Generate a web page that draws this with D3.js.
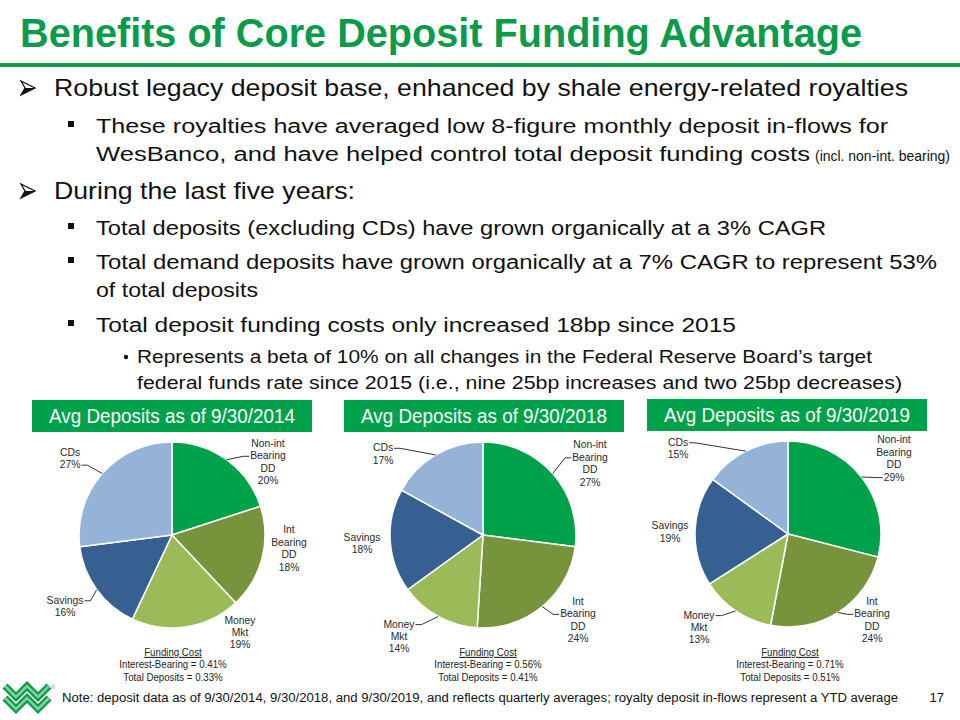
<!DOCTYPE html>
<html>
<head>
<meta charset="utf-8">
<script src="https://cdn.jsdelivr.net/npm/d3@7/dist/d3.min.js"></script>
<style>
  html, body { margin: 0; padding: 0; background: #fff; }
  svg { display: block; }
  text { font-family: "Liberation Sans", Arial, sans-serif; }
</style>
</head>
<body>
<script>
// ---------------- DATA ----------------
const categories = ["Non-int Bearing DD", "Int Bearing DD", "Money Mkt", "Savings", "CDs"];
const categoryLabelLines = [["Non-int", "Bearing", "DD"], ["Int", "Bearing", "DD"], ["Money", "Mkt"], ["Savings"], ["CDs"]];
const periods = ["9/30/2014", "9/30/2018", "9/30/2019"];
const values2014 = [20, 18, 19, 16, 27];
const values2018 = [27, 24, 14, 18, 17];
const values2019 = [29, 24, 13, 19, 15];
const fundingInterestBearing = ["0.41%", "0.56%", "0.71%"];
const fundingTotalDeposits = ["0.33%", "0.41%", "0.51%"];

const titleText = "Benefits of Core Deposit Funding Advantage";
const bulletLines = [
  { level: 1, text: "Robust legacy deposit base, enhanced by shale energy-related royalties" },
  { level: 2, text: "These royalties have averaged low 8-figure monthly deposit in-flows for" },
  { level: 2, cont: true, text: "WesBanco, and have helped control total deposit funding costs", small: "(incl. non-int. bearing)" },
  { level: 1, text: "During the last five years:" },
  { level: 2, text: "Total deposits (excluding CDs) have grown organically at a 3% CAGR" },
  { level: 2, text: "Total demand deposits have grown organically at a 7% CAGR to represent 53%" },
  { level: 2, cont: true, text: "of total deposits" },
  { level: 2, text: "Total deposit funding costs only increased 18bp since 2015" },
  { level: 3, text: "Represents a beta of 10% on all changes in the Federal Reserve Board\u2019s target" },
  { level: 3, cont: true, text: "federal funds rate since 2015 (i.e., nine 25bp increases and two 25bp decreases)" }
];
const noteText = "Note: deposit data as of 9/30/2014, 9/30/2018, and 9/30/2019, and reflects quarterly averages;  royalty deposit in-flows represent  a YTD average";
const pageNumber = "17";

// ---------------- LAYOUT / STYLE ----------------
const W = 960, H = 720;
const green = "#00A14B";
const titleGreen = "#0C9B4A";
const sliceColors = ["#00A14B", "#77933C", "#9BBB59", "#376092", "#95B3D7"];
const textColor = "#111";
const labelColor = "#2a2a2a";
const narrow = 0.86;

const bulletLayout = [
  { y: 96, end: 908 },
  { y: 133, end: 888 },
  { y: 161, end: 810, smallEnd: 950 },
  { y: 199, end: 355 },
  { y: 235, end: 826 },
  { y: 269, end: 937 },
  { y: 297, end: 258 },
  { y: 332, end: 736 },
  { y: 363, end: 872 },
  { y: 389, end: 902 }
];
const levelStyle = {
  1: { markX: 21, textX: 54, size: 24 },
  2: { markX: 71, textX: 96, size: 20 },
  3: { markX: 124, textX: 137, size: 17.5 }
};

const pies = [
  { cx: 172, cy: 535, boxX: 32, boxY: 400, values: values2014,
    labels: [[96, -73.5], [117, 13], [68, 97], [-107, 71], [-102, -77]],
    leaders: [{ line: 1, side: "left" }, null, null, { line: 0, side: "right" }, { line: 1, side: "right" }],
    fundingX: 173 },
  { cx: 483, cy: 535, boxX: 344, boxY: 400, values: values2018,
    labels: [[107, -72], [95, 84.5], [-84, 101], [-121, 8], [-100, -81.5]],
    leaders: [{ line: 1, side: "left" }, { line: 1, side: "left" }, { line: 0, side: "right" }, null, { line: 0, side: "right" }],
    fundingX: 488 },
  { cx: 788, cy: 534, boxX: 647, boxY: 399, values: values2019,
    labels: [[106, -76], [84, 85.5], [-89, 93], [-118, -2.5], [-110, -86]],
    leaders: [{ line: 3, side: "left" }, { line: 1, side: "left" }, { line: 0, side: "right" }, null, { line: 0, side: "right" }],
    fundingX: 790 }
];
const R = 93;
const lineGap = 12.4;

// ---------------- DRAW ----------------
const svg = d3.select("body").append("svg").attr("width", W).attr("height", H);
svg.append("rect").attr("width", W).attr("height", H).attr("fill", "#fff");

function narrowText(sel, f) {
  const n = sel.node().getComputedTextLength();
  const k = f || narrow;
  sel.attr("textLength", n * k).attr("lengthAdjust", "spacingAndGlyphs");
  return n * k;
}

// Title
svg.append("text")
  .attr("x", 20).attr("y", 47)
  .attr("font-family", "'Liberation Sans Narrow', 'Liberation Sans', Arial, sans-serif")
  .attr("font-weight", "bold").attr("font-size", 40)
  .attr("fill", titleGreen)
  .attr("textLength", 842).attr("lengthAdjust", "spacingAndGlyphs")
  .text(titleText);
svg.append("rect").attr("x", 0).attr("y", 63).attr("width", W).attr("height", 4).attr("fill", "#0E9C4B");

// Bullets
bulletLines.forEach((b, i) => {
  const lay = bulletLayout[i];
  const st = levelStyle[b.level];
  if (!b.cont) {
    if (b.level === 1) {
      const x = st.markX, y = lay.y - 8;
      svg.append("path")
        .attr("d", `M${x},${y - 7} L${x + 14},${y} L${x},${y + 7} L${x + 4},${y} Z`)
        .attr("fill", "none").attr("stroke", textColor).attr("stroke-width", 1.3);
      svg.append("path")
        .attr("d", `M${x + 4},${y} L${x + 14},${y} L${x},${y + 7} Z`)
        .attr("fill", textColor);
    } else if (b.level === 2) {
      svg.append("rect").attr("x", st.markX - 3).attr("y", lay.y - 12).attr("width", 6).attr("height", 6).attr("fill", textColor);
    } else {
      svg.append("circle").attr("cx", st.markX + 2).attr("cy", lay.y - 6).attr("r", 2.2).attr("fill", textColor);
    }
  }
  svg.append("text")
    .attr("x", st.textX).attr("y", lay.y)
    .attr("font-size", st.size).attr("fill", textColor)
    .attr("textLength", lay.end - st.textX).attr("lengthAdjust", "spacingAndGlyphs")
    .text(b.text);
  if (b.small) {
    svg.append("text")
      .attr("x", lay.end + 5).attr("y", lay.y)
      .attr("font-size", 15).attr("fill", textColor)
      .attr("textLength", lay.smallEnd - lay.end - 5).attr("lengthAdjust", "spacingAndGlyphs")
      .text(b.small);
  }
});

// Pies
const pieGen = d3.pie().sort(null).startAngle(0).endAngle(2 * Math.PI).value(d => d);
const arcGen = d3.arc().innerRadius(0).outerRadius(R);

pies.forEach((p, pi) => {
  svg.append("rect").attr("x", p.boxX).attr("y", p.boxY).attr("width", 280).attr("height", 32).attr("fill", green);
  svg.append("text")
    .attr("x", p.boxX + 140).attr("y", p.boxY + 23)
    .attr("text-anchor", "middle").attr("font-size", 20).attr("fill", "#fff")
    .attr("textLength", 246).attr("lengthAdjust", "spacingAndGlyphs")
    .text("Avg Deposits as of " + periods[pi]);

  const g = svg.append("g").attr("transform", `translate(${p.cx},${p.cy})`);
  const arcs = pieGen(p.values);
  g.selectAll("path.slice").data(arcs).join("path")
    .attr("class", "slice")
    .attr("d", arcGen)
    .attr("fill", (d, i) => sliceColors[i])
    .attr("stroke", "#fff").attr("stroke-width", 1.5).attr("stroke-linejoin", "round");

  arcs.forEach((a, i) => {
    const lines = categoryLabelLines[i].concat([a.data + "%"]);
    const [lx, ly] = p.labels[i];
    const top = ly - (lines.length - 1) * lineGap / 2;
    const widths = [];
    lines.forEach((ln, k) => {
      const t = g.append("text")
        .attr("x", lx).attr("y", top + k * lineGap).attr("dy", "0.35em")
        .attr("text-anchor", "middle").attr("font-size", 11.5).attr("fill", labelColor)
        .text(ln);
      widths.push(narrowText(t, 0.9));
    });
    const ld = p.leaders[i];
    if (ld) {
      const mid = (a.startAngle + a.endAngle) / 2;
      const sx = Math.sin(mid) * R, sy = -Math.cos(mid) * R;
      const tl = widths[ld.line];
      const ey = top + ld.line * lineGap + 1;
      let ex, elx;
      if (ld.side === "left") { ex = lx - tl / 2 - 1; elx = ex - 6; }
      else { ex = lx + tl / 2 + 1; elx = ex + 6; }
      g.append("path")
        .attr("d", `M${sx},${sy} L${elx},${ey} L${ex},${ey}`)
        .attr("fill", "none").attr("stroke", "#333").attr("stroke-width", 1);
    }
  });

  const fx = p.fundingX;
  const fundingLines = ["Funding Cost", "Interest-Bearing = " + fundingInterestBearing[pi], "Total Deposits = " + fundingTotalDeposits[pi]];
  fundingLines.forEach((txt, k) => {
    const t = svg.append("text").attr("x", fx).attr("y", 652 + k * 12.5).attr("dy", "0.35em")
      .attr("text-anchor", "middle").attr("font-size", 11).attr("fill", "#222")
      .text(txt);
    if (k === 0) t.attr("text-decoration", "underline");
    narrowText(t, 0.88);
  });
});

// Logo
const logo = svg.append("g");
const zig = (y0) => `M5,${y0} L16,${y0 + 11} L27,${y0} L38,${y0 + 11} L49,${y0}`;
[686, 698].forEach(y0 => {
  logo.append("path").attr("d", zig(y0)).attr("fill", "none").attr("stroke", "#0A9A48").attr("stroke-width", 7);
  logo.append("path").attr("d", zig(y0)).attr("fill", "none").attr("stroke", "#7ED39B").attr("stroke-width", 2.5);
});
logo.append("text").attr("x", 51).attr("y", 689).attr("font-size", 5).attr("fill", "#888").text("\u00AE");

// Note & page number
svg.append("text").attr("x", 62).attr("y", 702)
  .attr("font-family", "'Liberation Sans Narrow', 'Liberation Sans', Arial, sans-serif")
  .attr("font-size", 12).attr("fill", "#111")
  .attr("textLength", 836).attr("lengthAdjust", "spacingAndGlyphs")
  .text(noteText);
svg.append("text").attr("x", 944).attr("y", 702).attr("text-anchor", "end")
  .attr("font-family", "'Liberation Sans Narrow', 'Liberation Sans', Arial, sans-serif")
  .attr("font-size", 13).attr("fill", "#111").text(pageNumber);
</script>
</body>
</html>
